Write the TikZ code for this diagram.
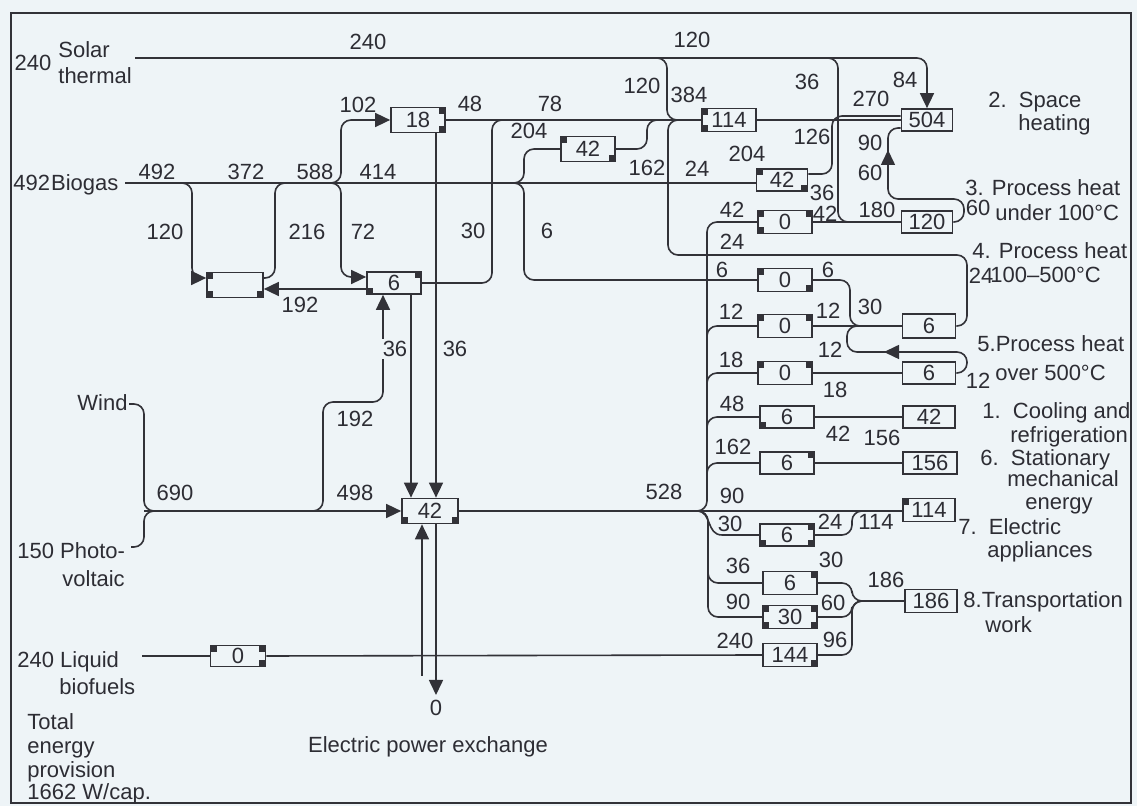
\documentclass[tikz,border=0pt]{standalone}
\usepackage{fontspec}
\setmainfont{Liberation Sans}
\usetikzlibrary{arrows.meta,calc}
\definecolor{bg}{RGB}{238,244,247}
\definecolor{lc}{RGB}{50,50,56}
\definecolor{tc}{RGB}{45,45,52}
\newcounter{lbc}
\newcommand{\dfont}{\fontsize{11}{13}\selectfont}
\newcommand{\nlab}[2]{\stepcounter{lbc}\node[lbl] (lab\thelbc) at (#1) {#2};}
\newcommand{\tlab}[2]{\stepcounter{lbc}\node[tlb] (lab\thelbc) at (#1) {#2};}
\newcommand{\cTL}[1]{\fill[lc] (#1.north west) rectangle ++(7,7);}
\newcommand{\cTR}[1]{\fill[lc] (#1.north east) rectangle ++(-7,7);}
\newcommand{\cBL}[1]{\fill[lc] (#1.south west) rectangle ++(7,-7);}
\newcommand{\cBR}[1]{\fill[lc] (#1.south east) rectangle ++(-7,-7);}
\tikzset{
 flow/.style={draw=lc, line width=0.8pt},
 arr/.style={-{Triangle[length=7.5pt,width=7pt]}},
 rc/.style={rounded corners=5pt},
 bx/.style={draw=lc, line width=0.85pt, fill=bg, minimum width=27pt, minimum height=11.5pt, inner sep=0pt, font=\dfont, text=tc},
 lbl/.style={inner sep=0pt, text depth=0pt, font=\dfont, text=tc},
 tlb/.style={inner sep=0pt, anchor=base west, font=\dfont, text=tc},
}
\begin{document}
\begin{tikzpicture}[x=0.5pt,y=-0.5pt]
\fill[bg] (0,0) rectangle (1137,806);
\useasboundingbox (0,0) rectangle (1137,806);
\draw[lc, line width=1pt] (11,13) rectangle (1131,803);

% boxes
\node[bx, minimum width=28pt, minimum height=12.5pt] (bE) at (235,285) {};
\node[bx, minimum height=11pt] (b6a) at (394,283) {6};
\node[bx, minimum height=12.5pt] (b18) at (418,120) {18};
\node[bx, minimum height=12.5pt] (b42m) at (588,149) {42};
\node[bx] (b114a) at (729,120) {114};
\node[bx, minimum width=25.5pt, minimum height=11pt] (b42r) at (782,180) {42};
\node[bx] (b0a) at (785,222) {0};
\node[bx] (b0b) at (785,280) {0};
\node[bx] (b0c) at (785,326) {0};
\node[bx] (b0d) at (785,373) {0};
\node[bx, minimum height=11pt] (b6d) at (787,417) {6};
\node[bx, minimum height=11pt] (b6e) at (787,463) {6};
\node[bx, minimum height=11pt] (b6f) at (787,535) {6};
\node[bx] (b6g) at (790,583) {6};
\node[bx] (b30) at (790,617) {30};
\node[bx] (b144) at (790,655) {144};
\node[bx, minimum width=28pt, minimum height=12.5pt] (b42c) at (430,511) {42};
\node[bx, minimum width=27.5pt, minimum height=10.5pt] (b0l) at (238,656) {0};
\node[bx, minimum width=25.5pt, minimum height=11pt] (b504) at (927,120) {504};
\node[bx, minimum width=25.5pt, minimum height=11pt] (b120) at (927,222) {120};
\node[bx, minimum width=26.5pt, minimum height=12pt] (b6p) at (929,326) {6};
\node[bx, minimum width=26.5pt, minimum height=11pt] (b6q) at (929,373) {6};
\node[bx, minimum width=26pt, minimum height=11pt] (b42e) at (929,417) {42};
\node[bx, minimum width=27pt, minimum height=11pt] (b156) at (930,463) {156};
\node[bx, minimum width=26pt, minimum height=11.5pt] (b114e) at (929,510) {114};
\node[bx, minimum width=26pt, minimum height=11.5pt] (b186) at (931,601) {186};

% free ends and junctions
\coordinate (sol) at (135,58);
\coordinate (bio) at (125,183);
\coordinate (wind) at (129,404);
\coordinate (pv) at (131,547);
\coordinate (liq) at (142,656);
\coordinate (jc) at (697,511);
\coordinate (jw) at (144,511);
\coordinate (jt) at (868,601);
\coordinate (ex) at (436,695);
\coordinate (exb) at (422,676);

% solar thermal
\draw[flow,arr,rc] (sol) -| (b504.north);
\draw[flow,rc] (640,58) -| (667,120) -- (b114a.west);
\draw[flow,rc] (690,120) -| (668,255) -| (967,326) -- (b6p.east);
\draw[flow,rc] (815,58) -| (838,222) -- (856,222);

% upper middle
\draw[flow] (b18.east) -- (b114a.west);
\draw[flow,rc] (b6a.east) -| (492,120) -- (512,120);
\draw[flow,rc] (505,183) -| (524,149) -- (b42m.west);
\draw[flow,rc] (505,183) -| (524,280) -- (b0b.west);
\draw[flow,rc] (b42m.east) -| (647,120) -- (667,120);

% biogas
\draw[flow] (bio) -- (bio -| b42r.west);
\draw[flow,rc] (165,183) -| (192,278) -- (197,278);
\draw[flow,arr] (193,278) -- (bE.west |- 0,278);
\draw[flow,rc] (bE.east |- 0,278) -| (275,183) -- (296,183);
\draw[flow,arr,rc] (320,183) -| (341,120) -- (b18.west);
\draw[flow,arr,rc] (320,183) -| (341,277) -- (b6a.west |- 0,277);
\draw[flow,arr] (b6a.west |- 0,289) -- (bE.east |- 0,289);

% wind / pv
\draw[flow,rc] (wind) -| (jw) -- (162,511);
\draw[flow,rc] (pv) -| (jw) -- (162,511);
\draw[flow,arr] (jw) -- (b42c.west);
\draw[flow,arr,rc] (300,511) -| (323,402) -| (b6a.south -| 383,0);
\draw[flow,arr] (b6a.south -| 411,0) -- (b42c.north -| 411,0);
\draw[flow,arr] (b18.south -| 436,0) -- (b42c.north -| 436,0);
\draw[flow,arr] (exb) -- (b42c.south -| exb);
\draw[flow,arr] (b42c.south -| ex) -- (ex);

% electricity distribution
\draw[flow] (b42c.east) -- (jc);
\draw[flow] (jc) -- (jc -| b114e.west);
\draw[flow,rc] (jc) -| (707,222) -- (b0a.west);
\draw[flow,rc] (707,345) |- (b0c.west);
\draw[flow,rc] (707,392) |- (b0d.west);
\draw[flow,rc] (707,436) |- (b6d.west);
\draw[flow,rc] (707,482) |- (b6e.west);
\draw[flow,rc] (jc) -| (708,617) -- (b30.west);
\draw[flow] (jc) .. controls (712,511) and (706,535) .. (722,535) -- (b6f.west);
\draw[flow,rc] (708,566) |- (b6g.west);

% outputs
\draw[flow] (b0a.east) -- (b120.west);
\draw[flow,rc] (b0b.east) -| (850,326) -- (866,326);
\draw[flow] (b0c.east) -- (b6p.west);
\draw[flow] (b0d.east) -- (b6q.west);
\draw[flow] (b6d.east) -- (b42e.west);
\draw[flow] (b6e.east) -- (b156.west);
\draw[flow,rc] (b6f.east) -| (852,511) -- (870,511);
\draw[flow,rc] (b6g.east) -| (852,601) -- (jt);
\draw[flow,rc] (b30.east) -| (852,601) -- (jt);
\draw[flow,rc] (b144.east) -| (852,601) -- (jt);
\draw[flow] (jt) -- (b186.west);
\draw[flow,arr,rc] (b6q.east) -| (967,352) -- (884,352);
\draw[flow,rc] (886,352) -| (847,326) -- (864,326);
\draw[flow,rc] (b42r.east |- 0,174) -| (832,116) -- (b504.west |- 0,116);
\draw[flow] (b114a.east) -- (b504.west);
\draw[flow,arr,rc] (b120.east) -| (964,199) -| (888,150);
\draw[flow,rc] (888,155) |- (b504.west |- 0,128);

% liquid biofuels
\draw[flow] (liq) -- (b0l.west);
\draw[flow] (b0l.east) -- (b144.west);

% black port squares
\cTL{bE}\cBL{bE}\cBR{bE}
\cTR{b6a}\cBL{b6a}
\cTR{b18}\cBR{b18}
\cTL{b42m}\cBR{b42m}
\cTL{b114a}\cBL{b114a}
\cTL{b42r}\cBR{b42r}
\cTL{b0a}\cBL{b0a}\cTR{b0a}
\cTL{b0b}\cBR{b0b}
\cTL{b0c}\cTR{b0c}
\cTL{b0d}\cTR{b0d}
\cBL{b6d}
\cTR{b6e}
\cTR{b6f}\cBL{b6f}\cBR{b6f}
\cTR{b6g}
\cTL{b30}\cBL{b30}\cTR{b30}\cBR{b30}
\cBR{b144}
\cBL{b42c}\cBR{b42c}
\cTL{b0l}\cTR{b0l}\cBR{b0l}
\cTL{b114e}

% labels (left texts)
\nlab{33,63}{240}
\tlab{58,58}{Solar}
\tlab{58,84}{thermal}
\tlab{13,191}{492\hspace{0.5pt}Biogas}
\tlab{77,411}{Wind}
\tlab{17,559}{150 Photo-}
\tlab{62,587}{voltaic}
\tlab{17,668}{240 Liquid}
\tlab{59,695}{biofuels}
\tlab{27,730}{Total}
\tlab{27,754}{energy}
\tlab{27,778}{provision}
\tlab{27,800}{1662 W/cap.}
\nlab{436,708}{0}
\nlab{428,745}{Electric power exchange}

% numbers
\nlab{368,42}{240}
\nlab{692,40}{120}
\nlab{642,86}{120}
\nlab{689,95}{384}
\nlab{807,82}{36}
\nlab{905,80}{84}
\nlab{871,99}{270}
\nlab{812,137}{126}
\nlab{870,143}{90}
\nlab{870,173}{60}
\nlab{822,193}{36}
\nlab{825,214}{42}
\nlab{877,210}{180}
\nlab{978,208}{60}
\nlab{358,105}{102}
\nlab{470,104}{48}
\nlab{550,104}{78}
\nlab{529,131}{204}
\nlab{157,172}{492}
\nlab{246,172}{372}
\nlab{315,172}{588}
\nlab{378,172}{414}
\nlab{647,168}{162}
\nlab{697,169}{24}
\nlab{747,154}{204}
\nlab{165,232}{120}
\nlab{307,232}{216}
\nlab{363,232}{72}
\nlab{473,231}{30}
\nlab{547,231}{6}
\nlab{300,305}{192}
\nlab{732,210}{42}
\nlab{732,242}{24}
\nlab{722,270}{6}
\nlab{828,270}{6}
\nlab{981,276}{24}
\nlab{731,312}{12}
\nlab{828,311}{12}
\nlab{870,307}{30}
\nlab{830,350}{12}
\nlab{731,360}{18}
\nlab{835,390}{18}
\nlab{978,381}{12}
\node[lbl, fill=bg, inner sep=1pt] (lab36a) at (395,349) {36};
\nlab{455,349}{36}
\nlab{355,419}{192}
\nlab{175,493}{690}
\nlab{355,493}{498}
\nlab{664,492}{528}
\nlab{732,404}{48}
\nlab{838,434}{42}
\nlab{733,447}{162}
\nlab{882,438}{156}
\nlab{732,496}{90}
\nlab{730,524}{30}
\nlab{830,522}{24}
\nlab{876,522}{114}
\nlab{831,560}{30}
\nlab{738,566}{36}
\nlab{886,580}{186}
\nlab{738,602}{90}
\nlab{833,603}{60}
\nlab{735,641}{240}
\nlab{835,640}{96}

% right-hand category labels
\tlab{988,108}{2.~~Space}
\tlab{1018,131}{heating}
\tlab{965,196}{3. Process heat}
\tlab{995,221}{under 100°C}
\tlab{972,259}{4. Process heat}
\tlab{990,283}{100–500°C}
\tlab{977,352}{5.Process heat}
\tlab{995,381}{over 500°C}
\tlab{982,419}{1.~~Cooling and}
\tlab{1010,443}{refrigeration}
\tlab{980,466}{6.~~Stationary}
\tlab{1007,487}{mechanical}
\tlab{1025,510}{energy}
\tlab{958,535}{7.~~Electric}
\tlab{987,558}{appliances}
\tlab{963,608}{8.Transportation}
\tlab{985,633}{work}
\end{tikzpicture}
\end{document}
